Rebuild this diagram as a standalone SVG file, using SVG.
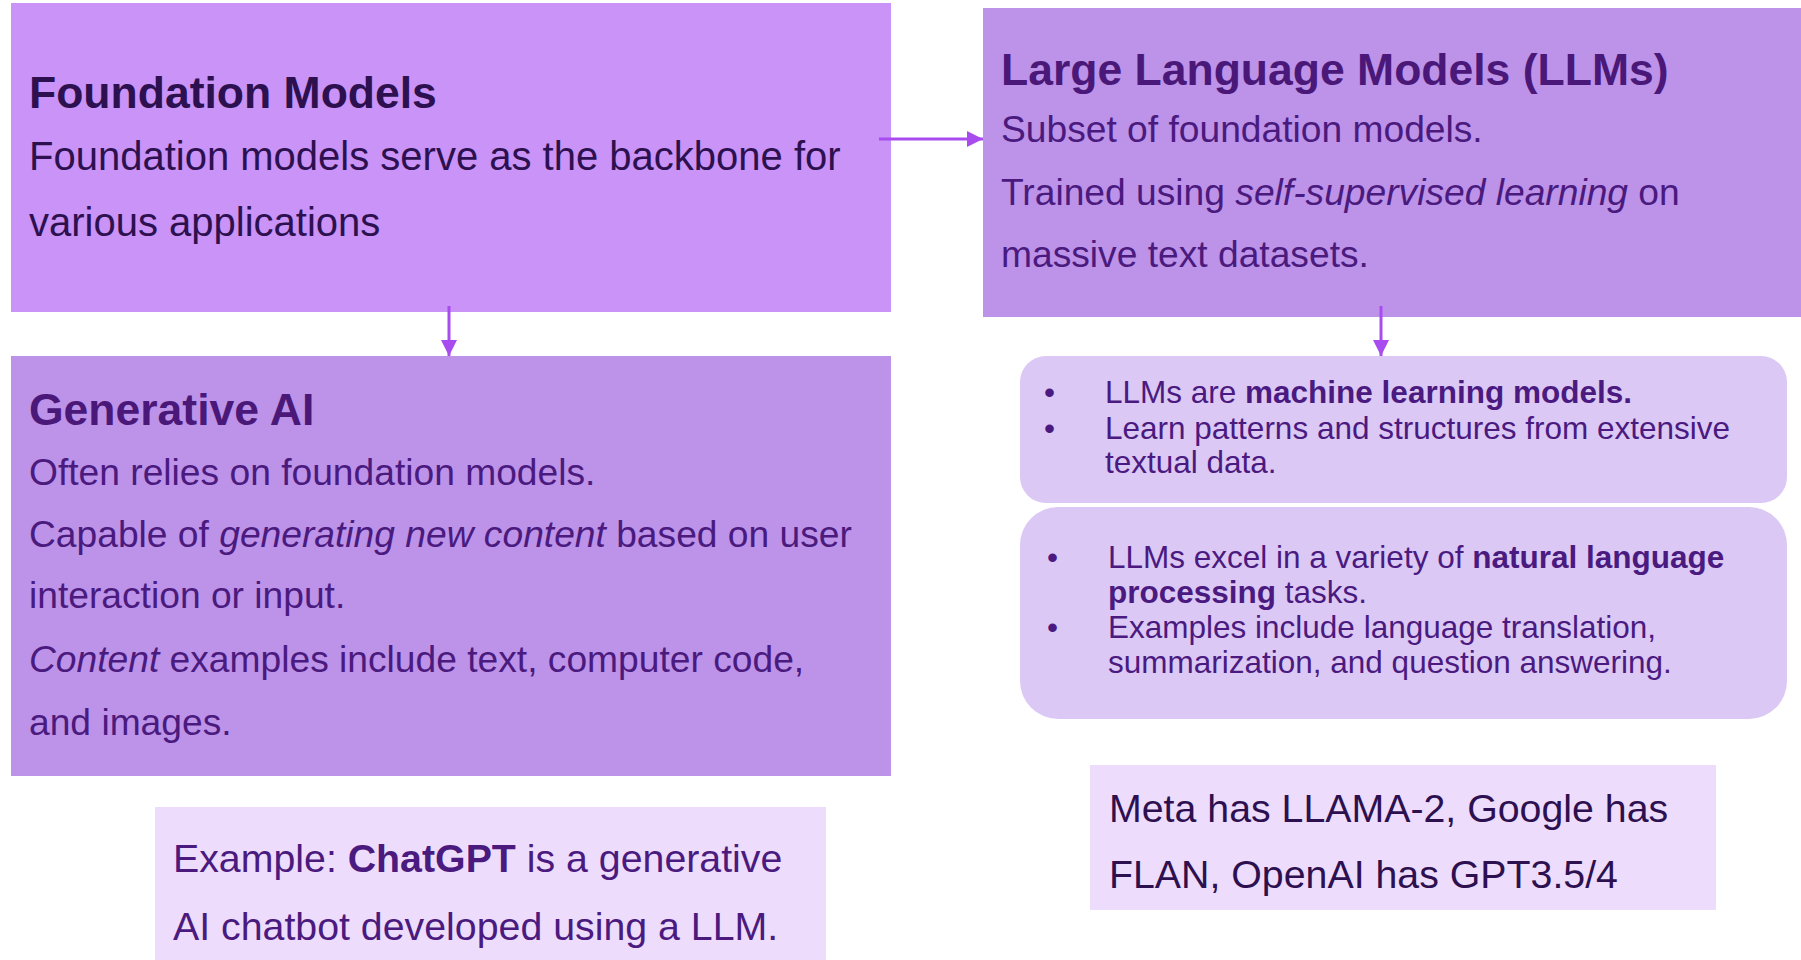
<svg xmlns="http://www.w3.org/2000/svg" width="1801" height="960" viewBox="0 0 1801 960">
<style>
text{font-family:"Liberation Sans",Arial,sans-serif;}
.h{font-weight:bold;font-size:44.5px;}
.b1{font-size:40px;fill:#2D1050;}
.b2{font-size:37.2px;fill:#4A1A7E;}
.bl{font-size:31.5px;fill:#4A1A80;}
.ex{font-size:39.3px;}
.conn{stroke:#A84CF0;stroke-width:3;fill:none;}
</style>
<defs>
<marker id="ah" markerUnits="userSpaceOnUse" markerWidth="16" markerHeight="16" refX="16" refY="8" orient="auto">
<path d="M0,0 L16,8 L0,16 Z" fill="#A84CF0"/>
</marker>
</defs>
<rect width="1801" height="960" fill="#FFFFFF"/>
<g id="foundation">
<rect x="11" y="3" width="880" height="309" fill="#C993F7"/>
<text x="29" y="108" class="h" fill="#2D1050">Foundation Models</text>
<text x="29" y="170" class="b1">Foundation models serve as the backbone for</text>
<text x="29" y="236" class="b1">various applications</text>
</g>
<g id="llms">
<rect x="983" y="8" width="818" height="309" fill="#BD92E9"/>
<text x="1001" y="85" class="h" fill="#4A1878">Large Language Models (LLMs)</text>
<text x="1001" y="142" class="b2">Subset of foundation models.</text>
<text x="1001" y="205" class="b2">Trained using <tspan font-style="italic">self-supervised learning</tspan> on</text>
<text x="1001" y="267" class="b2">massive text datasets.</text>
</g>
<g id="genai">
<rect x="11" y="356" width="880" height="420" fill="#BD92E9"/>
<text x="29" y="425" class="h" fill="#4A1878">Generative AI</text>
<text x="29" y="485" class="b2">Often relies on foundation models.</text>
<text x="29" y="547" class="b2">Capable of <tspan font-style="italic">generating new content</tspan> based on user</text>
<text x="29" y="608" class="b2">interaction or input.</text>
<text x="29" y="672" class="b2"><tspan font-style="italic">Content</tspan> examples include text, computer code,</text>
<text x="29" y="735" class="b2">and images.</text>
</g>
<g id="llm-ml">
<rect x="1020" y="356" width="767" height="147" rx="26" fill="#DCC8F5"/>
<text x="1044" y="403" class="bl">•</text>
<text x="1105" y="403" class="bl">LLMs are <tspan font-weight="bold">machine learning models.</tspan></text>
<text x="1044" y="439" class="bl">•</text>
<text x="1105" y="439" class="bl">Learn patterns and structures from extensive</text>
<text x="1105" y="473" class="bl">textual data.</text>
</g>
<g id="llm-nlp">
<rect x="1020" y="507" width="767" height="212" rx="38" fill="#DCC8F5"/>
<text x="1047" y="568" class="bl">•</text>
<text x="1108" y="568" class="bl">LLMs excel in a variety of <tspan font-weight="bold">natural language</tspan></text>
<text x="1108" y="603" class="bl"><tspan font-weight="bold">processing</tspan> tasks.</text>
<text x="1047" y="638" class="bl">•</text>
<text x="1108" y="638" class="bl">Examples include language translation,</text>
<text x="1108" y="673" class="bl">summarization, and question answering.</text>
</g>
<g id="example">
<rect x="155" y="807" width="671" height="153" fill="#EEDCFD"/>
<text x="173" y="872" class="ex" fill="#4A1A7E">Example: <tspan font-weight="bold">ChatGPT</tspan> is a generative</text>
<text x="173" y="940" class="ex" fill="#4A1A7E">AI chatbot developed using a LLM.</text>
</g>
<g id="vendors">
<rect x="1090" y="765" width="626" height="145" fill="#EEDCFD"/>
<text x="1109" y="822" class="ex" fill="#2D1050">Meta has LLAMA-2, Google has</text>
<text x="1109" y="888" class="ex" fill="#2D1050">FLAN, OpenAI has GPT3.5/4</text>
</g>
<g id="connectors">
<line x1="879" y1="139" x2="983" y2="139" class="conn" marker-end="url(#ah)"/>
<line x1="449" y1="306" x2="449" y2="356" class="conn" marker-end="url(#ah)"/>
<line x1="1381" y1="306" x2="1381" y2="356" class="conn" marker-end="url(#ah)"/>
</g>
</svg>
